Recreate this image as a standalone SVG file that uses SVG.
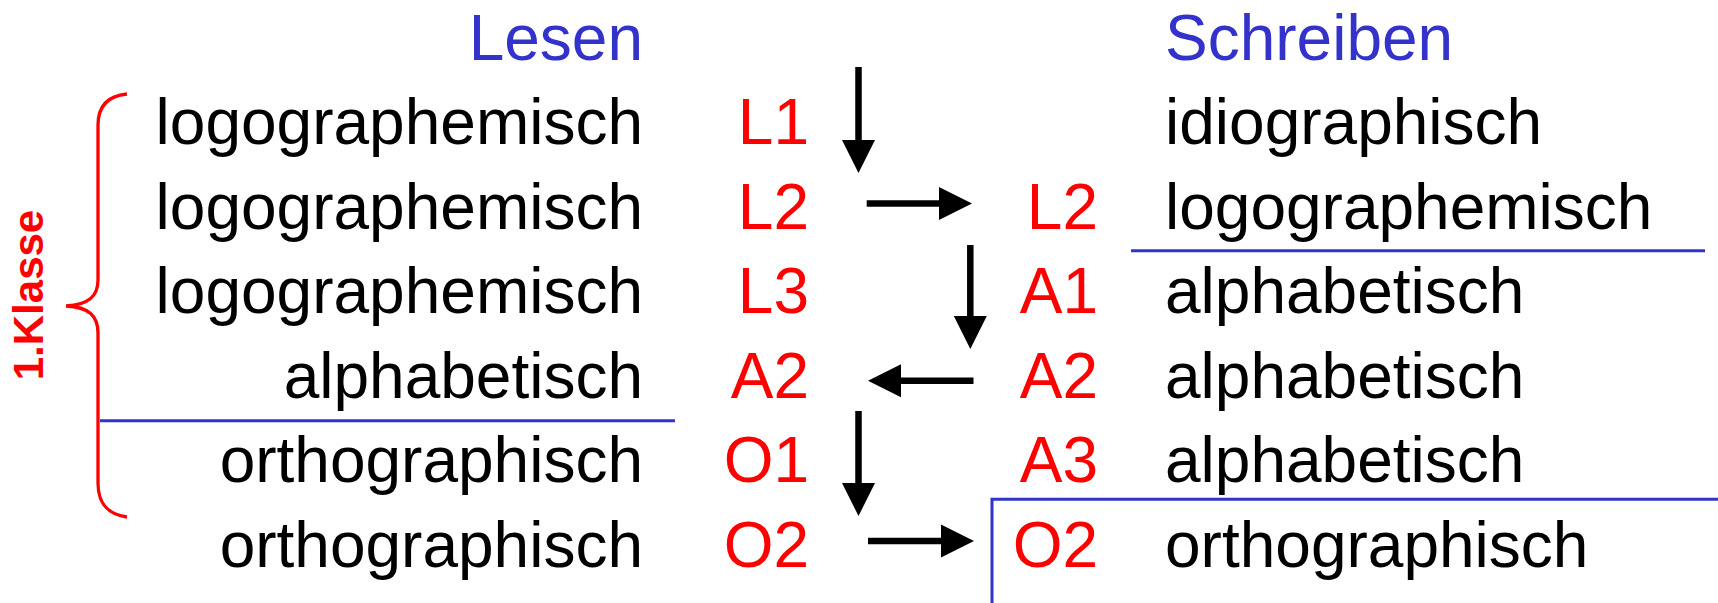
<svg xmlns="http://www.w3.org/2000/svg" width="1718" height="603" viewBox="0 0 1718 603">
  <style>
    .txt { font-family: "Liberation Sans", Arial, sans-serif; font-size: 64px; fill: #000000; }
    .head { fill: #3333CC; }
    .code { fill: #FF0000; }
    .end { text-anchor: end; }
    .rule { stroke: #3333CC; stroke-width: 3; fill: none; }
    .arrow { stroke: #000000; stroke-width: 6.5; fill: none; marker-end: url(#tri); }
    .brace { stroke: #FF0000; stroke-width: 3.3; fill: none; }
    .klasse { font-family: "Liberation Sans", Arial, sans-serif; font-size: 42px; font-weight: bold; fill: #FF0000; text-anchor: middle; }
  </style>
  <defs>
    <marker id="tri" markerUnits="userSpaceOnUse" markerWidth="34" markerHeight="34" refX="0" refY="16.5" orient="auto" overflow="visible">
      <path d="M0,0 L33,16.5 L0,33 Z" fill="#000000"/>
    </marker>
  </defs>

  <rect width="1718" height="603" fill="#FFFFFF"/>

  <!-- column headings -->
  <g id="heading-lesen">
    <text class="txt head end" x="643" y="60">Lesen</text>
  </g>
  <g id="heading-schreiben">
    <text class="txt head" x="1165" y="60">Schreiben</text>
  </g>

  <!-- reading stages -->
  <g id="lesen-l1">
    <text class="txt end" x="643" y="144">logographemisch</text>
    <text class="txt code end" x="809" y="144">L1</text>
  </g>
  <g id="lesen-l2">
    <text class="txt end" x="643" y="229">logographemisch</text>
    <text class="txt code end" x="809" y="229">L2</text>
  </g>
  <g id="lesen-l3">
    <text class="txt end" x="643" y="313">logographemisch</text>
    <text class="txt code end" x="809" y="313">L3</text>
  </g>
  <g id="lesen-a2">
    <text class="txt end" x="643" y="398">alphabetisch</text>
    <text class="txt code end" x="809" y="398">A2</text>
  </g>
  <g id="lesen-o1">
    <text class="txt end" x="643" y="482">orthographisch</text>
    <text class="txt code end" x="809" y="482">O1</text>
  </g>
  <g id="lesen-o2">
    <text class="txt end" x="643" y="567">orthographisch</text>
    <text class="txt code end" x="809" y="567">O2</text>
  </g>

  <!-- writing stages -->
  <g id="schreiben-idio">
    <text class="txt" x="1165" y="144">idiographisch</text>
  </g>
  <g id="schreiben-l2">
    <text class="txt code end" x="1098" y="229">L2</text>
    <text class="txt" x="1165" y="229">logographemisch</text>
  </g>
  <g id="schreiben-a1">
    <text class="txt code end" x="1098" y="313">A1</text>
    <text class="txt" x="1165" y="313">alphabetisch</text>
  </g>
  <g id="schreiben-a2">
    <text class="txt code end" x="1098" y="398">A2</text>
    <text class="txt" x="1165" y="398">alphabetisch</text>
  </g>
  <g id="schreiben-a3">
    <text class="txt code end" x="1098" y="482">A3</text>
    <text class="txt" x="1165" y="482">alphabetisch</text>
  </g>
  <g id="schreiben-o2">
    <text class="txt code end" x="1098" y="567">O2</text>
    <text class="txt" x="1165" y="567">orthographisch</text>
  </g>

  <!-- first-grade bracket -->
  <g id="klasse">
    <path class="brace" d="M127,94 C106,96 98,108 98,125 L98,280 C98,296 89,305 66,306 C89,307 98,316 98,333 L98,483 C98,502 106,514 127,517"/>
    <text class="klasse" transform="translate(43,295) rotate(-90)">1.Klasse</text>
  </g>

  <!-- dividing rules -->
  <g id="rules">
    <line class="rule" x1="100" y1="420.7" x2="675" y2="420.7"/>
    <line class="rule" x1="1131" y1="250.7" x2="1705" y2="250.7"/>
    <polyline class="rule" points="992,603 992,499.3 1718,499.3"/>
  </g>

  <!-- stage transitions -->
  <g id="connectors">
    <line class="arrow" x1="858.5" y1="67" x2="858.5" y2="140"/>
    <line class="arrow" x1="866.7" y1="203.5" x2="939" y2="203.5"/>
    <line class="arrow" x1="970.3" y1="245" x2="970.3" y2="316"/>
    <line class="arrow" x1="973.5" y1="380.7" x2="901" y2="380.7"/>
    <line class="arrow" x1="858.5" y1="411" x2="858.5" y2="483"/>
    <line class="arrow" x1="868" y1="541" x2="941" y2="541"/>
  </g>
</svg>
